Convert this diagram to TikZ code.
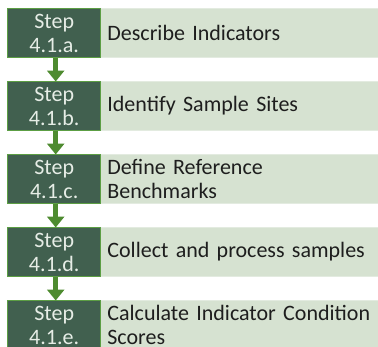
\documentclass[tikz,border=0pt]{standalone}
\usepackage{fontspec}
\setmainfont{Carlito}
\usetikzlibrary{arrows.meta,positioning}
\definecolor{darkbox}{HTML}{41604F}
\definecolor{boxedge}{HTML}{5C9E44}
\definecolor{lightbox}{HTML}{D6E2D1}
\definecolor{lightedge}{HTML}{E3EBE0}
\definecolor{arrowgreen}{HTML}{4E8B30}
\definecolor{steptext}{HTML}{E6EDE6}
\definecolor{desctext}{HTML}{1E1E1E}
\begin{document}
\begin{tikzpicture}[x=1pt,y=1pt,
  stepbox/.style={draw=boxedge, line width=1.4pt, fill=darkbox, text=steptext,
    minimum width=93pt, minimum height=49pt, inner sep=0pt, anchor=north west,
    align=center, font=\fontsize{22}{24.5}\selectfont},
  descbox/.style={draw=lightedge, line width=0.8pt, fill=lightbox, text=desctext,
    minimum height=49pt, text width=264pt, inner xsep=7pt, inner ysep=0pt,
    anchor=north west, align=left, font=\fontsize{22}{24.5}\selectfont},
  flowarrow/.style={draw=arrowgreen, line width=4.5pt,
    -{Triangle[width=17pt,length=11pt]}, shorten >=-0.5pt}
]
\useasboundingbox (0,0) rectangle (378,-346);
\foreach \i/\lbl/\txt in {1/a/{Describe Indicators},2/b/{Identify Sample Sites},3/c/{Define Reference\\Benchmarks},4/d/{Collect and process samples},5/e/{Calculate Indicator Condition\\Scores}}{
  \node[descbox] (d\i) at (100,{-8-73*(\i-1)}) {\txt};
  \node[stepbox] (s\i) at (7,{-8-73*(\i-1)}) {Step\\4.1.\lbl.};
}
\foreach \i/\j in {1/2,2/3,3/4,4/5}{
  \draw[flowarrow] ([xshift=1.5pt]s\i.south) -- ([xshift=1.5pt]s\j.north);
}
\end{tikzpicture}
\end{document}
